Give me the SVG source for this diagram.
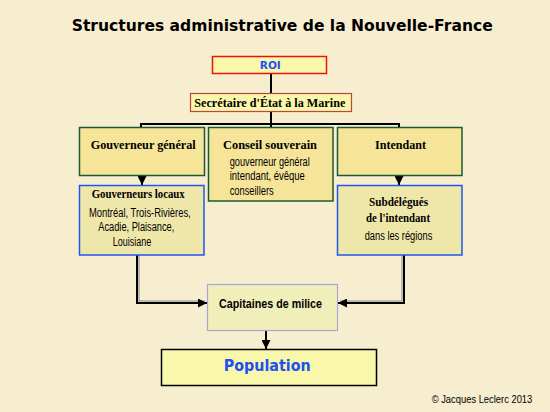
<svg xmlns="http://www.w3.org/2000/svg" width="550" height="412" viewBox="0 0 550 412">
<defs>
<style>
.bg{fill:#f7eed0}
.gold{fill:#f6e598;stroke:#1b5a34;stroke-width:1.5}
.pale{fill:#efe7a9;stroke:#2255ee;stroke-width:1.5}
.cap{fill:#f0eeb9;stroke:#a8a8d8;stroke-width:1.2}
.yel{fill:#f8f7aa}
.ser{font-family:"Liberation Serif","Times New Roman",serif;font-weight:bold;font-size:13.5px;fill:#000}
.nar{font-family:"Liberation Sans Narrow","Liberation Sans",Arial,sans-serif;font-size:12px;fill:#000}
.ln{fill:none;stroke:#000;stroke-width:2}
.sh{fill:none;stroke:#888;stroke-width:1}
</style>
<marker id="ah" viewBox="0 0 10 10" refX="10" refY="5" markerWidth="4.5" markerHeight="4.5" orient="auto" markerUnits="strokeWidth">
<path d="M0,0 L10,5 L0,10 z" fill="#000"/>
</marker>
</defs>
<rect class="bg" x="0" y="0" width="550" height="412"/>
<text x="71.7" y="31" font-family="DejaVu Sans,Verdana,sans-serif" font-weight="bold" font-size="15" textLength="421" lengthAdjust="spacingAndGlyphs">Structures administrative de la Nouvelle-France</text>

<g id="connectors">
<line class="ln" x1="271" y1="74" x2="271" y2="93" stroke-width="3"/>
<line class="ln" x1="271" y1="111" x2="271" y2="127" stroke-width="3"/>
<polyline class="ln" points="141,128 141,124 399,124 399,128"/>
<line class="ln" x1="142" y1="175" x2="142" y2="185" marker-end="url(#ah)"/>
<line class="ln" x1="399" y1="175" x2="399" y2="185" marker-end="url(#ah)"/>
<polyline class="sh" points="139,255 139,301 205,301"/>
<polyline class="ln" points="137,255 137,303 207,303" marker-end="url(#ah)"/>
<polyline class="sh" points="402,255 402,301 340,301"/>
<polyline class="ln" points="404,255 404,303 338,303" marker-end="url(#ah)"/>
<line class="ln" x1="266" y1="330" x2="266" y2="349" marker-end="url(#ah)"/>
</g>

<g id="roi">
<rect class="yel" x="212.5" y="56.5" width="114" height="17" stroke="#ee1111" stroke-width="1.5"/>
<text x="270.3" y="69" text-anchor="middle" font-family="DejaVu Sans,Verdana,sans-serif" font-weight="bold" font-size="11" fill="#1f4fff" textLength="21" lengthAdjust="spacingAndGlyphs">ROI</text>
</g>

<g id="secretaire">
<rect class="yel" x="190.5" y="93.5" width="161" height="18" stroke="#bb4444" stroke-width="1.2"/>
<text class="ser" x="194.3" y="106.7" textLength="151" lengthAdjust="spacingAndGlyphs">Secrétaire d'État à la Marine</text>
</g>

<g id="gouverneur-general">
<rect class="gold" x="79.5" y="127.5" width="125" height="48"/>
<text class="ser" x="90.7" y="149.3" textLength="105" lengthAdjust="spacingAndGlyphs">Gouverneur général</text>
</g>

<g id="conseil-souverain">
<rect class="gold" x="208.5" y="127.5" width="124.5" height="73.5"/>
<text class="ser" x="223" y="149.3" textLength="94" lengthAdjust="spacingAndGlyphs">Conseil souverain</text>
<text class="nar" x="229.7" y="165.7" textLength="80" lengthAdjust="spacingAndGlyphs">gouverneur général</text>
<text class="nar" x="229.7" y="180.3" textLength="75" lengthAdjust="spacingAndGlyphs">intendant, évêque</text>
<text class="nar" x="229.7" y="194.7" textLength="44" lengthAdjust="spacingAndGlyphs">conseillers</text>
</g>

<g id="intendant">
<rect class="gold" x="337.5" y="127.5" width="124.5" height="48"/>
<text class="ser" x="375" y="149.3" textLength="51" lengthAdjust="spacingAndGlyphs">Intendant</text>
</g>

<g id="gouverneurs-locaux">
<rect class="pale" x="79.5" y="185.5" width="124.5" height="69.5"/>
<text class="ser" x="91.7" y="198.3" textLength="93" lengthAdjust="spacingAndGlyphs">Gouverneurs locaux</text>
<text class="nar" x="89" y="216.7" textLength="101.7" lengthAdjust="spacingAndGlyphs">Montréal, Trois-Rivières,</text>
<text class="nar" x="98.3" y="231.3" textLength="76" lengthAdjust="spacingAndGlyphs">Acadie, Plaisance,</text>
<text class="nar" x="112.7" y="246" textLength="38.6" lengthAdjust="spacingAndGlyphs">Louisiane</text>
</g>

<g id="subdelegues">
<rect class="pale" x="337.5" y="185.5" width="124.5" height="69.5"/>
<text class="ser" x="369" y="205.7" textLength="59" lengthAdjust="spacingAndGlyphs">Subdélégués</text>
<text class="ser" x="366" y="221.7" textLength="64" lengthAdjust="spacingAndGlyphs">de l'intendant</text>
<text class="nar" x="364.7" y="240" textLength="67.6" lengthAdjust="spacingAndGlyphs">dans les régions</text>
</g>

<g id="capitaines">
<rect class="cap" x="207.5" y="284.5" width="130" height="46"/>
<text x="219" y="308.3" font-family="Liberation Sans Narrow,Liberation Sans,Arial,sans-serif" font-weight="bold" font-size="13" textLength="103" lengthAdjust="spacingAndGlyphs">Capitaines de milice</text>
</g>

<g id="population">
<rect class="yel" x="161.5" y="349.5" width="215" height="36" stroke="#000" stroke-width="1.5"/>
<text x="223.7" y="370.7" font-family="DejaVu Sans,Verdana,sans-serif" font-weight="bold" font-size="15.5" fill="#2050f0" textLength="87" lengthAdjust="spacingAndGlyphs">Population</text>
</g>

<text x="431.7" y="403.3" font-family="Liberation Sans Narrow,Liberation Sans,Arial,sans-serif" font-size="10" textLength="100.6" lengthAdjust="spacingAndGlyphs">© Jacques Leclerc 2013</text>
</svg>
